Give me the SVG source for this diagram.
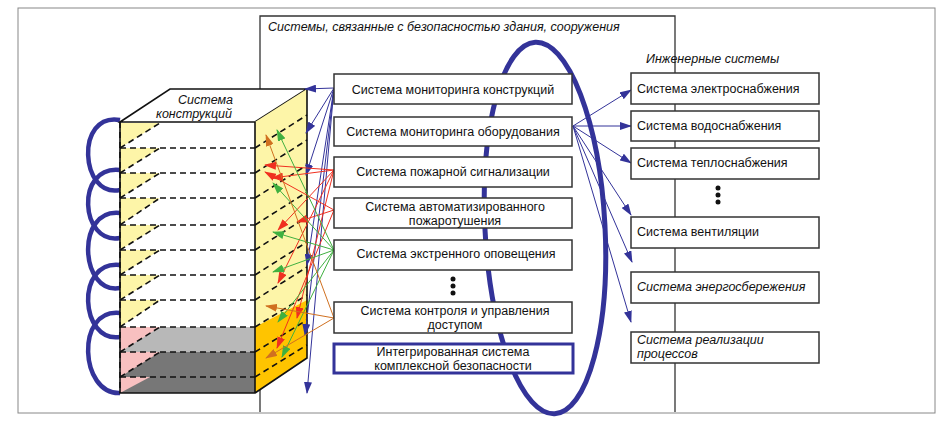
<svg xmlns="http://www.w3.org/2000/svg" width="943" height="425" viewBox="0 0 943 425">
<style>
text{font-family:"Liberation Sans",Arial,sans-serif;font-size:12.5px;fill:#111}
.it{font-style:italic}
.box{fill:#fff;stroke:#333;stroke-width:1.5}
.dash{stroke:#111;stroke-width:1.6;stroke-dasharray:6,4;fill:none}
.b{stroke:#333399;stroke-width:1;fill:none;marker-end:url(#mb)}
.r{stroke:#f03020;stroke-width:1;fill:none;marker-end:url(#mr)}
.g{stroke:#40b040;stroke-width:1;fill:none;marker-end:url(#mg)}
.o{stroke:#d07020;stroke-width:1;fill:none;marker-end:url(#mo)}
.loop{stroke:#333399;stroke-width:4.5;fill:none}
</style>
<defs>
<marker id="mb" markerWidth="12" markerHeight="8" refX="11" refY="4" orient="auto" markerUnits="userSpaceOnUse"><path d="M0,0L12,4L0,8z" fill="#333399"/></marker>
<marker id="mr" markerWidth="12" markerHeight="8" refX="11" refY="4" orient="auto" markerUnits="userSpaceOnUse"><path d="M0,0L12,4L0,8z" fill="#f03020"/></marker>
<marker id="mg" markerWidth="12" markerHeight="8" refX="11" refY="4" orient="auto" markerUnits="userSpaceOnUse"><path d="M0,0L12,4L0,8z" fill="#40b040"/></marker>
<marker id="mo" markerWidth="12" markerHeight="8" refX="11" refY="4" orient="auto" markerUnits="userSpaceOnUse"><path d="M0,0L12,4L0,8z" fill="#d07020"/></marker>
</defs>
<rect x="0" y="0" width="943" height="425" fill="#fff"/>
<rect x="18" y="8" width="917" height="405" fill="none" stroke="#888" stroke-width="1"/>
<g id="frame">
<path d="M260,412V16H675V412" fill="none" stroke="#333" stroke-width="1.3"/>
<text class="it" x="268" y="31" font-size="13.5">Системы, связанные с безопасностью здания, сооружения</text>
</g>
<g id="loops">
<path class="loop" d="M120,120 C75,112 80,198 120,190"/>
<path class="loop" d="M120,170 C75,165 80,245 120,238"/>
<path class="loop" d="M120,213 C75,208 80,295 120,288"/>
<path class="loop" d="M120,265 C75,260 80,343 120,337"/>
<path class="loop" d="M120,313 C75,308 80,395 120,393"/>
</g>
<g id="building">
<path d="M120,122L170,89H307L255,122z" fill="#fff" stroke="#111" stroke-width="1.6"/>
<path d="M255,122L307,89V300L255,327z" fill="#fdf5a8"/>
<path d="M255,327L307,300V358L255,393z" fill="#ffc400"/>
<rect x="120" y="327" width="135" height="25" fill="#b8b8b8"/>
<rect x="120" y="352" width="135" height="41" fill="#777"/>
<path d="M120,327H160L120,352z M120,352H160L120,377z M120,377H150L120,393z" fill="#f8c0c0"/>
<path d="M120,123H160L120,148z M120,148H160L120,173z M120,173H160L120,198z M120,198H160L120,225z M120,225H160L120,250z M120,250H160L120,275z M120,275H160L120,300z M120,300H160L120,327z" fill="#fdf5a8"/>
<path class="dash" d="M120,148H255 M120,173H255 M120,198H255 M120,225H255 M120,250H255 M120,275H255 M120,300H255 M120,327H255 M120,352H255 M120,377H255"/>
<path class="dash" d="M120,148L160,123 M120,173L160,148 M120,198L160,173 M120,225L160,198 M120,250L160,225 M120,275L160,250 M120,300L160,275 M120,327L160,300 M120,352L160,327 M120,377L160,352"/>
<path class="dash" d="M255,148L307,115 M255,173L307,140 M255,198L307,165 M255,225L307,192 M255,250L307,217 M255,275L307,242 M255,300L307,267 M255,327L307,295 M255,352L307,320 M255,377L307,345"/>
<path d="M120,122V393H255V122 M255,393L307,358V89" fill="none" stroke="#111" stroke-width="1.6"/>
<path d="M120,122V393" class="dash"/>
<text class="it" x="178" y="104" font-size="13">Система</text>
<text class="it" x="156" y="118" font-size="13">конструкций</text>
</g>
<ellipse id="ring" cx="545" cy="228" rx="60" ry="186" fill="none" stroke="#333399" stroke-width="5" transform="rotate(-3 545 228)"/>
<g id="connectors">
<path class="b" d="M334,88L305,89"/>
<path class="b" d="M334,88L306,133"/>
<path class="b" d="M334,88L306,175"/>
<path class="b" d="M334,88L307,265"/>
<path class="b" d="M334,88L305,335"/>
<path class="b" d="M334,88L307,393"/>
<path class="r" d="M334,170L265,165"/>
<path class="r" d="M334,170L272,178"/>
<path class="r" d="M334,170L278,230"/>
<path class="r" d="M334,170L278,283"/>
<path class="r" d="M334,170L297,318"/>
<path class="r" d="M334,210L265,172"/>
<path class="r" d="M334,210L297,222"/>
<path class="r" d="M334,210L277,348"/>
<path class="g" d="M334,250L277,130"/>
<path class="g" d="M334,250L273,183"/>
<path class="g" d="M334,250L273,232"/>
<path class="g" d="M334,250L273,272"/>
<path class="g" d="M334,250L278,322"/>
<path class="g" d="M334,250L282,357"/>
<path class="o" d="M334,318L266,135"/>
<path class="o" d="M334,318L266,306"/>
<path class="o" d="M334,318L266,358"/>
<path class="b" d="M573,126L631,90"/>
<path class="b" d="M573,126L631,126"/>
<path class="b" d="M573,126L631,163"/>
<path class="b" d="M573,126L631,215"/>
<path class="b" d="M573,126L632,262"/>
<path class="b" d="M573,126L631,322"/>
</g>
<g id="n1"><rect class="box" x="334" y="74" width="238" height="30"/><text x="453" y="94" text-anchor="middle">Система мониторинга конструкций</text></g>
<g id="n2"><rect class="box" x="334" y="117" width="238" height="29"/><text x="453" y="136" text-anchor="middle">Система мониторинга оборудования</text></g>
<g id="n3"><rect class="box" x="334" y="157" width="238" height="30"/><text x="453" y="176" text-anchor="middle">Система пожарной сигнализации</text></g>
<g id="n4"><rect class="box" x="334" y="198" width="238" height="30"/><text x="455" y="211" text-anchor="middle">Система автоматизированного</text><text x="455" y="225" text-anchor="middle">пожаротушения</text></g>
<g id="n5"><rect class="box" x="334" y="240" width="238" height="30"/><text x="456" y="258" text-anchor="middle">Система экстренного оповещения</text></g>
<g id="d1" fill="#111"><circle cx="453" cy="279" r="2.5"/><circle cx="453" cy="286" r="2.5"/><circle cx="453" cy="293" r="2.5"/></g>
<g id="n6"><rect class="box" x="334" y="302" width="238" height="31"/><text x="455" y="315" text-anchor="middle">Система контроля и управления</text><text x="455" y="329" text-anchor="middle">доступом</text></g>
<g id="n7"><rect x="334" y="344" width="239" height="29" fill="#fff" stroke="#333399" stroke-width="3"/><text x="453" y="356" text-anchor="middle">Интегрированная система</text><text x="453" y="370" text-anchor="middle">комплексной безопасности</text></g>
<text class="it" x="646" y="63" font-size="13">Инженерные системы</text>
<g id="r1"><rect class="box" x="631" y="73" width="188" height="31"/><text x="637" y="93">Система электроснабжения</text></g>
<g id="r2"><rect class="box" x="631" y="111" width="188" height="30"/><text x="637" y="130">Система водоснабжения</text></g>
<g id="r3"><rect class="box" x="631" y="148" width="188" height="31"/><text x="637" y="167">Система теплоснабжения</text></g>
<g id="d2" fill="#111"><circle cx="718" cy="188" r="2.5"/><circle cx="718" cy="195" r="2.5"/><circle cx="718" cy="202" r="2.5"/></g>
<g id="r4"><rect class="box" x="631" y="217" width="188" height="31"/><text x="637" y="236">Система вентиляции</text></g>
<g id="r5"><rect class="box" x="631" y="272" width="188" height="31"/><text class="it" x="637" y="291">Система энергосбережения</text></g>
<g id="r6"><rect class="box" x="631" y="332" width="188" height="31"/><text class="it" x="637" y="344">Система реализации</text><text class="it" x="637" y="358">процессов</text></g>
</svg>
